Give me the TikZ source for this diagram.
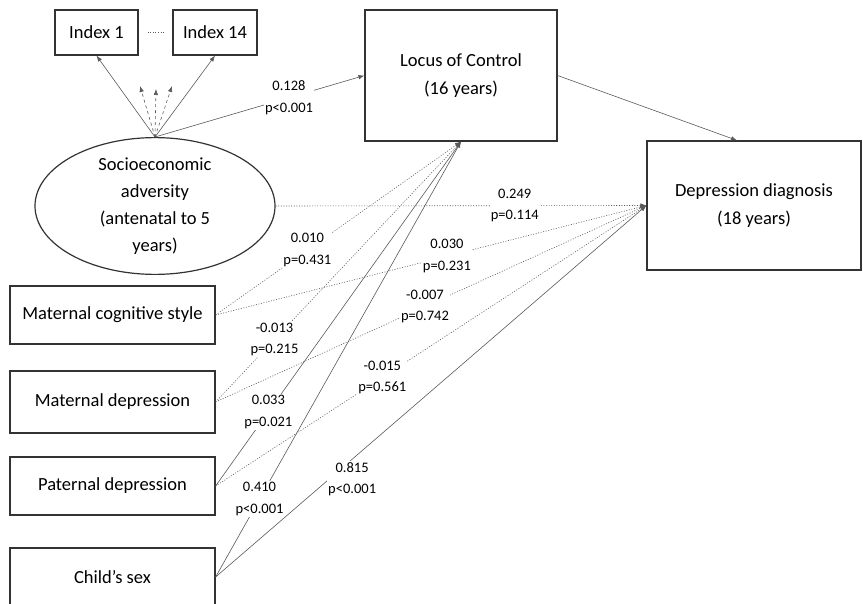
\documentclass[tikz,border=0pt]{standalone}
\usepackage{fontspec}
\setmainfont{Carlito}
\usetikzlibrary{shapes.geometric,arrows.meta}

\tikzset{
  varbox/.style={draw=black!80, line width=1.2pt, align=center, inner sep=0pt,
    font=\fontsize{18.5}{28}\selectfont},
  link/.style={draw=black!65, line width=0.6pt, -{Latex[length=6pt,width=4.5pt]}},
  weaklink/.style={link, dash pattern=on 1pt off 1.6pt},
  coef/.style={fill=white, align=center, inner sep=1pt,
    font=\fontsize{14.5}{21.5}\selectfont},
}

\begin{document}
\begin{tikzpicture}[x=1pt,y=1pt,yscale=-1,xscale=1]
  \useasboundingbox (0,0) rectangle (863,604);

  % measured variables of the latent factor
  \node[varbox, minimum width=83, minimum height=45] (index1) at (96.5,32.5) {Index 1};
  \node[varbox, minimum width=84, minimum height=45] (index14) at (215,32.5) {Index 14};
  \node[draw=black!80, line width=1.2pt, ellipse, minimum width=240, minimum height=133,
    inner sep=0pt, align=center, font=\fontsize{18.5}{27}\selectfont] (socio) at (155,206)
    {Socioeconomic\\adversity\\(antenatal to 5\\years)};

  % mediator and outcome
  \node[varbox, minimum width=192, minimum height=131] (loc) at (461,75.5) {Locus of Control\\(16 years)};
  \node[varbox, minimum width=214, minimum height=129] (depr) at (754,205.5) {Depression diagnosis\\(18 years)};

  % covariates
  \node[varbox, minimum width=205, minimum height=58] (matcog) at (112.5,315) {Maternal cognitive style};
  \node[varbox, minimum width=205, minimum height=62] (matdep) at (112.5,402) {Maternal depression};
  \node[varbox, minimum width=205, minimum height=58] (patdep) at (112.5,486) {Paternal depression};
  \node[varbox, minimum width=205, minimum height=58] (sex) at (112.5,577) {Child’s sex};

  \coordinate (ind2) at (140,86);
  \coordinate (ind3) at (156,89);
  \coordinate (ind4) at (172,86);

  % factor loadings
  \draw[link] (socio.north) -- (index1.south);
  \draw[link] (socio.north) -- (index14.south);
  \foreach \i in {2,3,4}
    \draw[link, dashed] (socio.north) -- (ind\i);
  \draw[draw=black!65, line width=0.6pt, dotted, shorten <=9pt, shorten >=9pt] (index1.east) -- (index14.west);

  % paths
  \draw[link] (socio.north) -- (loc.west) node[coef, pos=0.64] {0.128\\p<0.001};
  \draw[link] (loc.east) -- ([xshift=-17pt]depr.north);
  \draw[weaklink] (socio.east) -- (depr.west) node[coef, pos=0.645] {0.249\\p=0.114};

  \draw[weaklink] (matcog.east) -- (loc.south) node[coef, pos=0.374] {0.010\\p=0.431};
  \draw[weaklink] (matcog.east) -- (depr.west) node[coef, pos=0.537] {0.030\\p=0.231};
  \draw[weaklink] (matdep.east) -- (loc.south) node[coef, pos=0.24] {-0.013\\p=0.215};
  \draw[weaklink] (matdep.east) -- (depr.west) node[coef, pos=0.486] {-0.007\\p=0.742};
  \draw[link] (patdep.east) -- (loc.south) node[coef, pos=0.215] {0.033\\p=0.021};
  \draw[weaklink] (patdep.east) -- (depr.west) node[coef, pos=0.387] {-0.015\\p=0.561};
  \draw[link] (sex.east) -- (loc.south) node[coef, pos=0.179] {0.410\\p<0.001};
  \draw[link] (sex.east) -- (depr.west) node[coef, pos=0.317, yshift=-20pt] {0.815\\p<0.001};
\end{tikzpicture}
\end{document}
